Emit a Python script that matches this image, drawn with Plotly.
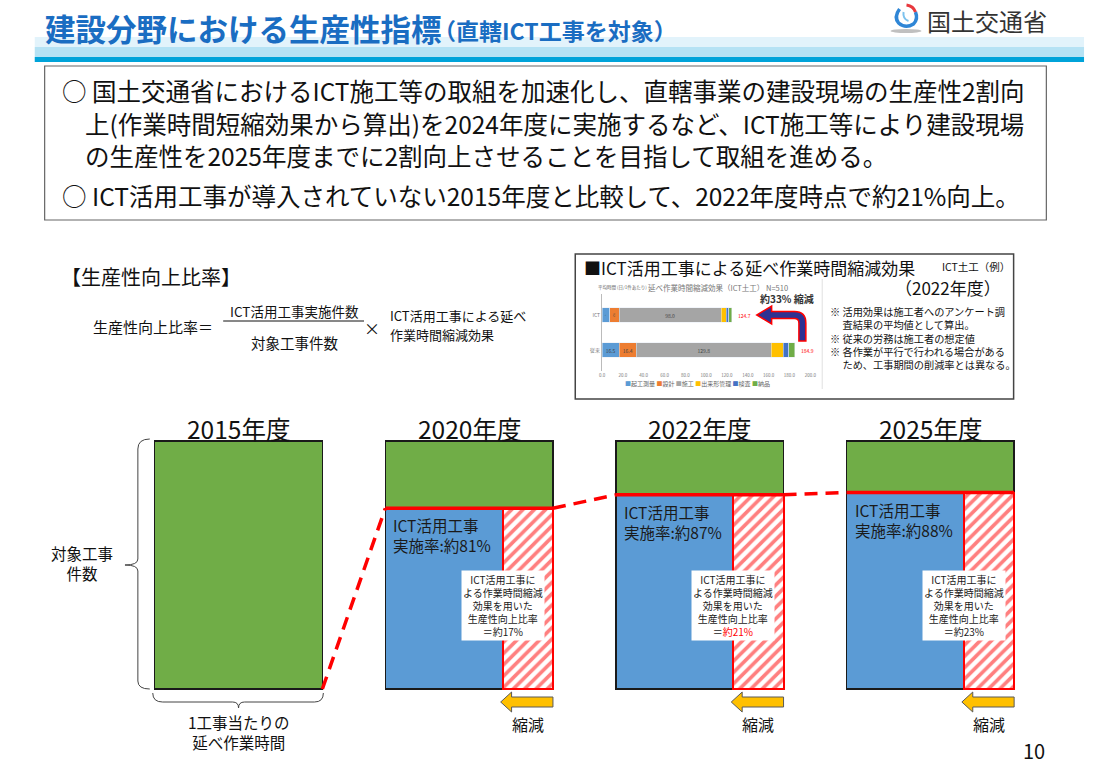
import plotly.graph_objects as go

# ---------------- data ----------------
years = ["2015年度", "2020年度", "2022年度", "2025年度"]
ict_rate = [0, 81, 87, 88]            # ICT活用工事 実施率 (%)
productivity_gain = [0, 17, 21, 23]   # 生産性向上比率 (%)
gain_highlight = [False, False, True, False]

inset_cats = ["従来", "ICT"]
inset_stages = ["起工測量", "設計", "施工", "出来形管理", "検査", "納品"]
inset_conv = [16.5, 16.4, 129.8, 11.1, 5.7, 5.4]
inset_ict = [7.2, 9.2, 98.0, 5.1, 2.3, 2.9]
inset_ticks = [0, 20, 40, 60, 80, 100, 120, 140, 160, 180, 200]
inset_reduction = 33

# ---------------- style ----------------
FONT = "Noto Sans CJK JP, Noto Sans, sans-serif"
W, H = 1095, 774
GREEN, BLUE, RED, YEL = "#70ad47", "#5b9bd5", "#ff0000", "#ffc000"
STAGE_COLORS = ["#5b9bd5", "#ed7d31", "#a5a5a5", "#ffc000", "#4472c4", "#70ad47"]
LEVEL_SCALE = 0.9      # drawn height of the ICT part relative to rate
HATCH = 0.30           # width share of reduction hatching
BW = 0.727             # bar width in category units

# main diagram axis mapping (x2/y2)
X0, SX = 237.5, 232.5
Y0, SY = 689.0, 2.48
x2_range = [(0 - X0) / SX, (W - X0) / SX]
y2_range = [(Y0 - H) / SY, Y0 / SY]

levels = [r * LEVEL_SCALE for r in ict_rate]
idx = list(range(len(years)))

fig = go.Figure()

# green (non ICT / total) part
fig.add_trace(go.Bar(
    x=idx, y=[100 - l for l in levels], base=levels, width=BW,
    marker=dict(color=GREEN, line=dict(color="#1a1a1a", width=1.5)),
    xaxis="x2", yaxis="y2", showlegend=False, hoverinfo="skip"))
# blue ICT part
ix = idx[1:]
fig.add_trace(go.Bar(
    x=ix, y=levels[1:], base=[0] * len(ix), width=BW * (1 - HATCH), offset=-BW / 2,
    marker=dict(color=BLUE, line=dict(color="#1a1a1a", width=1.5)),
    xaxis="x2", yaxis="y2", showlegend=False, hoverinfo="skip"))
# hatched reduction part
fig.add_trace(go.Bar(
    x=ix, y=levels[1:], base=[0] * len(ix), width=BW * HATCH, offset=-BW / 2 + BW * (1 - HATCH),
    marker=dict(color="white", line=dict(color=RED, width=2),
                pattern=dict(shape="/", fgcolor=RED, bgcolor="white", size=8, solidity=0.45)),
    xaxis="x2", yaxis="y2", showlegend=False, hoverinfo="skip"))

# red solid tops
tx, ty = [], []
for i in ix:
    tx += [i - BW / 2, i + BW / 2, None]
    ty += [levels[i], levels[i], None]
fig.add_trace(go.Scatter(x=tx, y=ty, mode="lines", line=dict(color=RED, width=3.5),
                         xaxis="x2", yaxis="y2", showlegend=False, hoverinfo="skip", cliponaxis=False))
# red dashed connectors
dx, dy = [], []
for i in ix:
    dx += [i - 1 + BW / 2, i - BW / 2, None]
    dy += [levels[i - 1], levels[i], None]
fig.add_trace(go.Scatter(x=dx, y=dy, mode="lines", line=dict(color=RED, width=3.5, dash="13px,8px"),
                         xaxis="x2", yaxis="y2", showlegend=False, hoverinfo="skip", cliponaxis=False))

# ---------------- inset chart (x3/y3) ----------------
for k, st in enumerate(inset_stages):
    fig.add_trace(go.Bar(
        y=inset_cats, x=[inset_conv[k], inset_ict[k]], orientation="h", name=st,
        marker=dict(color=STAGE_COLORS[k]), width=0.42,
        text=[f"{inset_conv[k]:.1f}", f"{inset_ict[k]:.1f}"] if k < 3 else None,
        textposition="inside", insidetextanchor="middle",
        textfont=dict(size=5, color="#444", family=FONT),
        xaxis="x3", yaxis="y3", showlegend=False, hoverinfo="skip"))

shapes = []
ann = []

def A(text, x, y, size, color="#111", xanchor="center", yanchor="middle", xref="x", yref="y", **kw):
    ann.append(dict(text=text, x=x, y=y, xref=xref, yref=yref, showarrow=False,
                    xanchor=xanchor, yanchor=yanchor,
                    font=dict(family=FONT, size=size, color=color), **kw))

# ---------------- header ----------------
shapes.append(dict(type="rect", xref="x", yref="y", x0=32, x1=1090, y0=37, y1=47,
                   fillcolor="#e2f3fb", line=dict(width=0), layer="below"))
shapes.append(dict(type="rect", xref="x", yref="y", x0=32, x1=1090, y0=47, y1=57,
                   fillcolor="#b5e2f4", line=dict(width=0), layer="below"))
shapes.append(dict(type="rect", xref="x", yref="y", x0=32, x1=1090, y0=57, y1=62,
                   fillcolor="#00a3d9", line=dict(width=0), layer="below"))
A("<b>建設分野における生産性指標</b>", 40, 28, 30.5, "#1a6dc2", xanchor="left")
A("<b>（直轄ICT工事を対象）</b>", 432, 30, 23, "#1a6dc2", xanchor="left")
# logo
shapes.append(dict(type="circle", xref="x", yref="y", x0=895, x1=926, y0=29, y1=33,
                   fillcolor="#c0c0c0", line=dict(width=0)))
shapes.append(dict(type="path", xref="x", yref="y",
                   path="M 904,9 Q 898,17 903,23 Q 910,29 918,24 Q 923,19 920,12",
                   line=dict(color="#2f86d6", width=3.5)))
shapes.append(dict(type="path", xref="x", yref="y",
                   path="M 911,5 Q 918,6 920,12", line=dict(color="#e8383d", width=3)))
shapes.append(dict(type="path", xref="x", yref="y",
                   path="M 908,12 Q 907,19 913,21", line=dict(color="#7cc2ee", width=2)))
A("国土交通省", 930, 20, 24, "#333", xanchor="left")

# ---------------- summary box ----------------
shapes.append(dict(type="rect", xref="x", yref="y", x0=42, x1=1052, y0=66, y1=220,
                   line=dict(color="#666", width=1.2), fillcolor="rgba(0,0,0,0)"))
A("○ 国土交通省におけるICT施工等の取組を加速化し、直轄事業の建設現場の生産性2割向", 57, 90, 24.5, "#111", xanchor="left")
A("上(作業時間短縮効果から算出)を2024年度に実施するなど、ICT施工等により建設現場", 81, 123, 24.5, "#111", xanchor="left")
A("の生産性を2025年度までに2割向上させることを目指して取組を進める。", 81, 155, 24.5, "#111", xanchor="left")
A("○ ICT活用工事が導入されていない2015年度と比較して、2022年度時点で約21%向上。", 57, 195, 24.5, "#111", xanchor="left")

# ---------------- formula ----------------
A("【生産性向上比率】", 56, 276, 20, "#111", xanchor="left")
A("生産性向上比率＝", 89, 326, 15, "#111", xanchor="left")
A("ICT活用工事実施件数", 294, 311, 13.5, "#111")
shapes.append(dict(type="line", xref="x", yref="y", x0=222, x1=364, y0=321, y1=321,
                   line=dict(color="#111", width=1)))
A("対象工事件数", 294, 342, 14.5, "#111")
A("×", 372, 328, 16, "#111")
A("ICT活用工事による延べ", 388, 315, 13, "#111", xanchor="left")
A("作業時間縮減効果", 388, 334, 13, "#111", xanchor="left")

# ---------------- inset frame & notes ----------------
shapes.append(dict(type="rect", xref="x", yref="y", x0=577, x1=1019, y0=254, y1=399,
                   line=dict(color="#444", width=1.5), fillcolor="rgba(0,0,0,0)"))
shapes.append(dict(type="line", xref="x", yref="y", x0=826, x1=826, y0=279, y1=389,
                   line=dict(color="#e0e0e0", width=1)))
A("■ICT活用工事による延べ作業時間縮減効果", 584, 267, 17, "#111", xanchor="left")
A("ICT土工（例）", 945, 266, 10.5, "#111", xanchor="left")
A("（2022年度）", 1008, 287, 17, "#111", xanchor="right")
notes = ("※ 活用効果は施工者へのアンケート調<br>"
         "　 査結果の平均値として算出。<br>"
         "※ 従来の労務は施工者の想定値<br>"
         "※ 各作業が平行で行われる場合がある<br>"
         "　 ため、工事期間の削減率とは異なる。")
A(notes, 832, 338, 10.2, "#111", xanchor="left", align="left")
A("平均時間 (日/1件あたり)", 598, 287, 4.5, "#666", xanchor="left")
A("延べ作業時間縮減効果（ICT土工） N=510", 648, 287, 7.5, "#777", xanchor="left")
A(f"<b>約{inset_reduction}% 縮減</b>", 790, 298, 10, "#333")
# U-turn arrow
shapes.append(dict(type="path", xref="x", yref="y",
                   path="M 802.5,341 L 809.5,341 L 809.5,323 Q 809.5,311.5 798,311.5 L 775,311.5 "
                        "L 775,306 L 760,315 L 775,324 L 775,318.5 L 798,318.5 Q 802.5,318.5 802.5,323 Z",
                   fillcolor="#2e3192", line=dict(color=RED, width=1.5)))
# totals
tot_conv = sum(inset_conv)
tot_ict = sum(inset_ict)
A(f"{tot_conv:.1f}", tot_conv + 4, inset_cats[0], 5, RED, xanchor="left", xref="x3", yref="y3")
A(f"{tot_ict:.1f}", tot_ict + 4, inset_cats[1], 5, RED, xanchor="left", xref="x3", yref="y3")
leg = " ".join(f"<span style='color:{c}'>■</span>{s}" for s, c in zip(inset_stages, STAGE_COLORS))
A(leg, 700, 383, 6, "#666")

# ---------------- main diagram annotations ----------------
for i, yr in enumerate(years):
    A(yr, i, 100, 24.5, "#111", xref="x2", yref="y2", yshift=13)

for i in ix:
    L = levels[i]
    A(f"ICT活用工事<br>実施率:約{ict_rate[i]}%", i - BW / 2, L, 15.5, "#1a1a1a",
      xanchor="left", yanchor="top", xref="x2", yref="y2", xshift=6, yshift=-4, align="left")
    hl = i - BW / 2 + BW * (1 - HATCH)
    val = f"約{productivity_gain[i]}%"
    if gain_highlight[i]:
        val = f"<span style='color:{RED}'>{val}</span>"
    A(f"ICT活用工事に<br>よる作業時間縮減<br>効果を用いた<br>生産性向上比率<br>＝{val}", hl, 0, 10, "#1a1a1a",
      xanchor="center", yanchor="bottom", xref="x2", yref="y2", yshift=48,
      bgcolor="white", borderpad=1)
    # yellow reduction arrow
    right = i + BW / 2
    tip = hl - 2 / SX
    hb = tip + 11 / SX
    yc = -13 / SY
    s, h = 5 / SY, 10 / SY
    path = (f"M {tip},{yc} L {hb},{yc + h} L {hb},{yc + s} L {right},{yc + s} "
            f"L {right},{yc - s} L {hb},{yc - s} L {hb},{yc - h} Z")
    shapes.append(dict(type="path", xref="x2", yref="y2", path=path,
                       fillcolor=YEL, line=dict(color="#5a5a5a", width=1)))
    A("縮減", (hl + right) / 2, 0, 16, "#111", xref="x2", yref="y2", yshift=-35)

# braces (pixel positions from mapping of 2015 bar)
bl = X0 - BW / 2 * SX
br = X0 + BW / 2 * SX
top = Y0 - 100 * SY
mid = (top + Y0) / 2
shapes.append(dict(type="path", xref="x", yref="y",
                   path=f"M {bl - 5},{top - 2} Q {bl - 17},{top - 2} {bl - 17},{top + 8} L {bl - 17},{mid - 6} "
                        f"Q {bl - 17},{mid} {bl - 30},{mid} Q {bl - 17},{mid} {bl - 17},{mid + 6} "
                        f"L {bl - 17},{Y0 - 8} Q {bl - 17},{Y0} {bl - 5},{Y0}",
                   line=dict(color="#444", width=1)))
A("対象工事<br>件数", 80, mid - 2, 15.5, "#111")
cx = (bl + br) / 2
shapes.append(dict(type="path", xref="x", yref="y",
                   path=f"M {bl - 2},{Y0 + 4} Q {bl - 2},{Y0 + 13} {bl + 8},{Y0 + 13} L {cx - 6},{Y0 + 13} "
                        f"Q {cx},{Y0 + 13} {cx},{Y0 + 19} Q {cx},{Y0 + 13} {cx + 6},{Y0 + 13} "
                        f"L {br - 8},{Y0 + 13} Q {br + 1},{Y0 + 13} {br + 1},{Y0 + 4}",
                   line=dict(color="#444", width=1)))
A("1工事当たりの<br>延べ作業時間", cx, Y0 + 43, 15.5, "#111")

A("10", 1040, 750, 20, "#111")

hidden = dict(visible=False, showgrid=False, zeroline=False, fixedrange=True)
fig.update_layout(
    width=W, height=H, margin=dict(l=0, r=0, t=0, b=0),
    paper_bgcolor="white", plot_bgcolor="rgba(0,0,0,0)",
    barmode="stack", showlegend=False,
    font=dict(family=FONT),
    xaxis=dict(range=[0, W], domain=[0, 1], **hidden),
    yaxis=dict(range=[H, 0], domain=[0, 1], **hidden),
    xaxis2=dict(range=x2_range, domain=[0, 1], overlaying="x", anchor="y2", **hidden),
    yaxis2=dict(range=y2_range, domain=[0, 1], overlaying="y", anchor="x2", **hidden),
    xaxis3=dict(range=[0, 200], domain=[604 / W, 814 / W], anchor="y3", showgrid=False,
                zeroline=False, tickvals=inset_ticks, ticktext=[f"{t:.1f}" for t in inset_ticks],
                tickfont=dict(size=4.5, color="#777"), ticks="", fixedrange=True),
    yaxis3=dict(range=[-0.6, 1.6], domain=[1 - 371 / H, 1 - 294 / H], anchor="x3",
                showline=True, linecolor="#bbb", linewidth=1, showgrid=False,
                tickfont=dict(size=5, color="#777"), ticks="", fixedrange=True),
    shapes=shapes, annotations=ann,
)
fig.write_html("out.html")
